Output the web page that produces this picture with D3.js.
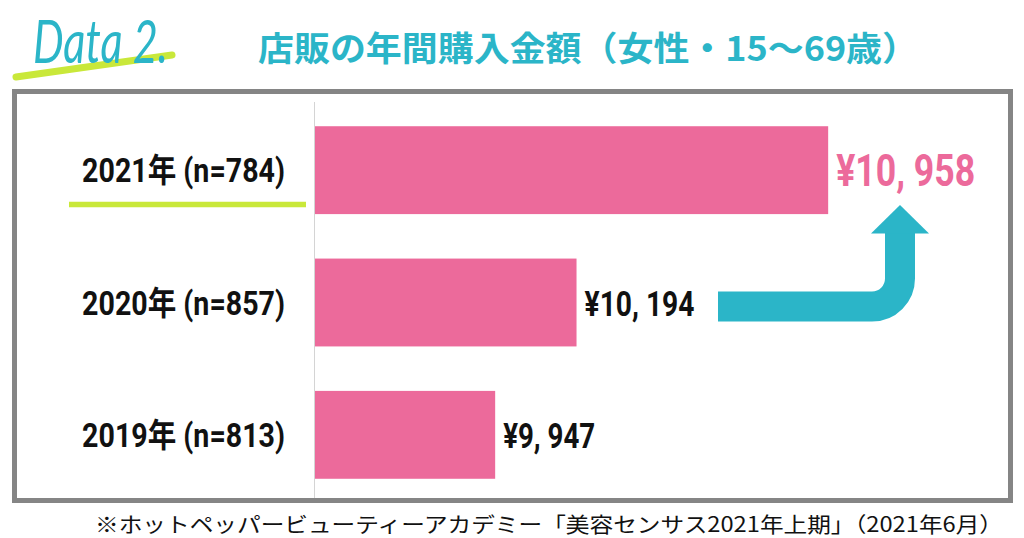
<!DOCTYPE html>
<html><head><meta charset="utf-8">
<script src="https://cdn.jsdelivr.net/npm/d3@7"></script>
<style>
html,body{margin:0;padding:0;background:#fff;}
svg{display:block;}
</style></head>
<body>
<svg id="chart" width="1024" height="538"></svg>
<script>
const categories = ["2021年 (n=784)", "2020年 (n=857)", "2019年 (n=813)"];
const values = [10958, 10194, 9947];
const valueLabels = ["¥10, 958", "¥10, 194", "¥9, 947"];
const xDomain = [9400, 11000];
const title = "店販の年間購入金額（女性・15～69歳）";
const badge = "Data 2.";
const footnote = "※ホットペッパービューティーアカデミー「美容センサス2021年上期」（2021年6月）";

const svg = d3.select("#chart");
const teal = "#2bb5c8", pink = "#ec6a9b", lime = "#c9e83a";
const cond = "Roboto, 'Noto Sans CJK JP', sans-serif";

// squeeze a text horizontally to a target width using a transform
function squeeze(sel, targetW, anchorX, baseY, anchor) {
  sel.each(function(d, i) {
    const t = d3.select(this);
    const w = this.getComputedTextLength();
    const tw = typeof targetW === "function" ? targetW(d, i) : targetW;
    const ax = typeof anchorX === "function" ? anchorX(d, i) : anchorX;
    const by = typeof baseY === "function" ? baseY(d, i) : baseY;
    const s = Math.min(1, tw / w);
    t.attr("x", 0).attr("y", 0).attr("text-anchor", anchor)
     .attr("transform", `translate(${ax},${by}) scale(${s},1)`);
  });
}

// Badge
svg.append("path").attr("d", "M16,77 L172,55").attr("stroke", lime).attr("stroke-width", 7).attr("stroke-linecap", "round");
svg.append("text").text(badge).attr("x", 33).attr("y", 63)
  .attr("font-family", "Lato, 'Open Sans', sans-serif").attr("font-style", "italic").attr("font-weight", 400)
  .attr("font-size", 60).attr("fill", teal).attr("textLength", 135).attr("lengthAdjust", "spacingAndGlyphs");

// Title
svg.append("text").text(title).attr("x", 258).attr("y", 61)
  .attr("font-family", "'Noto Sans CJK JP',sans-serif").attr("font-weight", 700)
  .attr("font-size", 34).attr("fill", teal).attr("textLength", 660).attr("lengthAdjust", "spacingAndGlyphs");

// Frame
svg.append("rect").attr("x", 14.5).attr("y", 91.5).attr("width", 996).attr("height", 409)
  .attr("fill", "none").attr("stroke", "#858585").attr("stroke-width", 5);

const x = d3.scaleLinear().domain(xDomain).range([315, 842]);
const y = d3.scaleBand().domain(categories).range([104, 501]).paddingInner(0.336).paddingOuter(0.168);

// axis line
svg.append("line").attr("x1", x(xDomain[0]) - 0.5).attr("x2", x(xDomain[0]) - 0.5)
  .attr("y1", 102).attr("y2", 498).attr("stroke", "#d4d4d4").attr("stroke-width", 1);

// Bars
svg.selectAll("rect.bar").data(values).enter().append("rect").attr("class", "bar")
  .attr("x", x(xDomain[0])).attr("y", (d, i) => y(categories[i]))
  .attr("width", d => x(d) - x(xDomain[0])).attr("height", y.bandwidth()).attr("fill", pink);

// Category labels
const cat = svg.selectAll("text.cat").data(categories).enter().append("text").attr("class", "cat")
  .text(d => d).attr("font-family", cond).attr("font-weight", 700)
  .attr("font-size", 33).attr("fill", "#111");
squeeze(cat, 203, 285, d => y(d) + y.bandwidth() / 2 + 12, "end");

// underline under first category
svg.append("line").attr("x1", 69).attr("x2", 306).attr("y1", 204.5).attr("y2", 204.5)
  .attr("stroke", lime).attr("stroke-width", 5.5);

// Value labels
const vl = [
  {size: 45, fill: pink, len: 139, dy: 16},
  {size: 35, fill: "#111", len: 110, dy: 13},
  {size: 35, fill: "#111", len: 92, dy: 13}
];
const val = svg.selectAll("text.val").data(values).enter().append("text").attr("class", "val")
  .text((d, i) => valueLabels[i])
  .attr("font-family", cond).attr("font-weight", 700)
  .attr("font-size", (d, i) => vl[i].size).attr("fill", (d, i) => vl[i].fill);
squeeze(val, (d, i) => vl[i].len, d => x(d) + 8,
  (d, i) => y(categories[i]) + y.bandwidth() / 2 + vl[i].dy, "start");

// Arrow
svg.append("path").attr("d", "M718,306.5 H872 A28,28 0 0 0 900,278.5 V232")
  .attr("fill", "none").attr("stroke", teal).attr("stroke-width", 30);
svg.append("path").attr("d", "M871,233.5 L900,205 L929,233.5 Z").attr("fill", teal);

// Footnote
svg.append("text").text(footnote).attr("x", 95).attr("y", 532)
  .attr("font-family", "'Noto Sans CJK JP',sans-serif").attr("font-size", 21).attr("fill", "#111")
  .attr("textLength", 908).attr("lengthAdjust", "spacingAndGlyphs");
</script>
</body></html>
